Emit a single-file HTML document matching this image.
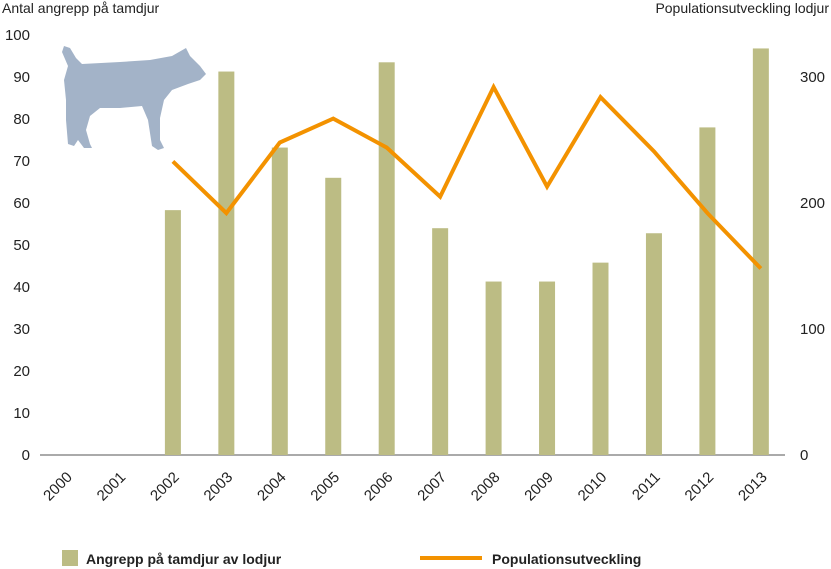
<!DOCTYPE html>
<html><head><meta charset="utf-8"><style>
body{margin:0;background:#fff;}
svg{display:block;font-family:"Liberation Sans",sans-serif;}
</style></head><body>
<svg id="chart" width="831" height="569">
<text x="2" y="13" font-size="14" fill="#222">Antal angrepp på tamdjur</text>
<text x="829" y="13" font-size="14" fill="#222" text-anchor="end">Populationsutveckling lodjur</text>
<path fill="#a3b3c8" d="M64,46 L70,48 L76,58 L82,64 L120,62 L150,60 L172,56 L186,48 L190,56 L200,66 L206,74 L200,80 L188,84 L172,90 L164,100 L160,118 L160,140 L164,148 L158,150 L152,146 L148,120 L142,106 L120,108 L100,108 L90,116 L86,130 L90,144 L92,148 L84,148 L78,140 L74,146 L68,144 L66,120 L66,100 L64,80 L68,66 L62,52 Z"/>
<g id="axes"></g>
<g id="bars"></g>
<g id="line"></g>
<rect x="62" y="550" width="16" height="16" fill="#bcbc84"/>
<text x="86" y="564" font-size="14" font-weight="bold" fill="#222">Angrepp på tamdjur av lodjur</text>
<line x1="420" y1="558" x2="482" y2="558" stroke="#f39200" stroke-width="4"/>
<text x="492" y="564" font-size="14" font-weight="bold" fill="#222">Populationsutveckling</text>
</svg>
<script>
const years=["2000","2001","2002","2003","2004","2005","2006","2007","2008","2009","2010","2011","2012","2013"];
const attacks=[null,null,58.3,91.3,73.2,66,93.5,54,41.3,41.3,45.8,52.8,78,96.8];
const population=[null,null,233,192,248,267,244,205,292,213,284,241,192,148];
const leftTicks=[0,10,20,30,40,50,60,70,80,90,100];
const rightTicks=[0,100,200,300];
const NS="http://www.w3.org/2000/svg";
const y0=455;
function xPos(i){return 66+i*53.45;}
function yL(v){return y0-v*4.2;}
function yR(v){return y0-v*1.26;}
function mk(tag,attrs,parent,text){const e=document.createElementNS(NS,tag);for(const k in attrs)e.setAttribute(k,attrs[k]);if(text!==undefined)e.textContent=text;document.getElementById(parent).appendChild(e);return e;}
let e=mk('line',{x1:40,x2:785,y1:y0,y2:y0,stroke:'#555','stroke-width':1},'axes');


leftTicks.forEach(t=>{const el=mk('text',{x:30,y:yL(t)+5,'font-size':15,'text-anchor':'end',fill:'#222'},'axes',t);

});
rightTicks.forEach(t=>{const el=mk('text',{x:800,y:yR(t)+5,'font-size':15,fill:'#222'},'axes',t);

});
years.forEach((yr,i)=>{const x=xPos(i)+7;const el=mk('text',{x:x,y:478,'font-size':15,'text-anchor':'end',fill:'#222',transform:'rotate(-45 '+x+' 478)'},'axes',yr);

});
attacks.forEach((v,i)=>{if(v==null)return;const el=mk('rect',{x:xPos(i)-8,y:yL(v),width:16,height:y0-yL(v),fill:'#bcbc84'},'bars');

});
let pts=[];population.forEach((v,i)=>{if(v!=null)pts.push(xPos(i)+','+yR(v));});
const pl=mk('polyline',{points:pts.join(' '),fill:'none',stroke:'#f39200','stroke-width':4,'stroke-linejoin':'miter'},'line');


</script>
</body></html>
